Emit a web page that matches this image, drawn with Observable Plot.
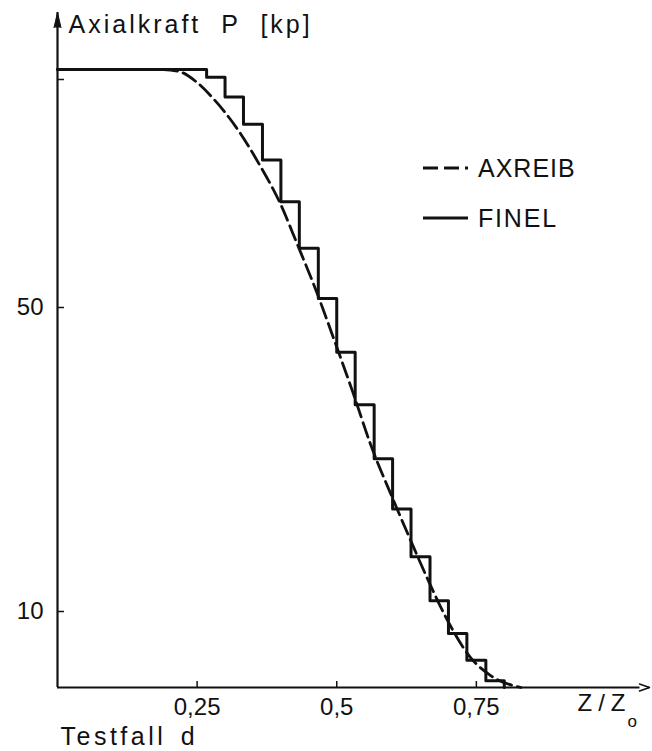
<!DOCTYPE html>
<html><head><meta charset="utf-8">
<script src="https://cdn.jsdelivr.net/npm/d3@7"></script>
<script src="https://cdn.jsdelivr.net/npm/@observablehq/plot@0.6"></script>
<style>
body{margin:0;background:#fff;}
#wrap{position:relative;width:652px;height:751px;overflow:hidden;}
.item{position:absolute;left:423px;height:30px;display:flex;align-items:center;font-family:"Liberation Sans",sans-serif;font-size:25px;color:#111;}
.item svg{display:block;margin-right:10px;}
</style></head>
<body><div id="wrap"></div>
<script>
// FINEL staircase: positions of the steps (Z/Z0) and the force level that starts there (kp)
const finelX = [0, 0.267, 0.3, 0.333, 0.367, 0.4, 0.433, 0.467, 0.5, 0.533, 0.567, 0.6, 0.633, 0.667, 0.7, 0.733, 0.767, 0.8];
const finelP = [81.3, 80.3, 77.7, 74.1, 69.4, 63.9, 57.8, 51.2, 44.1, 37.2, 30.1, 23.5, 17.2, 11.4, 7.1, 3.6, 0.9, 0];
// AXREIB smooth curve (read points)
const axreibX = [0, 0.19, 0.22, 0.25, 0.28, 0.32, 0.36, 0.40, 0.43, 0.46, 0.50, 0.53, 0.56, 0.60, 0.635, 0.665, 0.70, 0.74, 0.775, 0.83];
const axreibP = [81.3, 81.3, 81.0, 79.6, 77.4, 73.7, 69.0, 63.5, 58.2, 52.8, 44.8, 38.6, 32.1, 24.9, 18.9, 13.9, 8.6, 3.9, 1.6, 0];
// axes
const yTicks = [10, 50];
const yTickMarks = [10, 50, 80];
const xTicks = [0.25, 0.5, 0.75];
const xTickLabels = ["0,25", "0,5", "0,75"];
const xMax = [1.06];
const yMax = [88.8];
const yTitle = ["Axialkraft P [kp]"];
const xTitle = ["Z/Z"];
const xTitleSub = ["o"];
const caption = ["Testfall d"];
const legendLabels = ["AXREIB", "FINEL"];
const legendDash = ["15,6", null];

const finel = finelX.map((x, i) => ({x, p: finelP[i]}));
const axreib = axreibX.map((x, i) => ({x, p: axreibP[i]}));
const ink = "#111";
const FF = '"Liberation Sans", sans-serif';

const chart = Plot.plot({
  width: 652, height: 751,
  marginLeft: 57, marginRight: 3, marginTop: 3, marginBottom: 64,
  x: {domain: [0, xMax[0]]},
  y: {domain: [0, 90]},
  style: {fontFamily: FF, fontSize: "24px", color: ink, background: "#fff", overflow: "visible"},
  marks: [
    Plot.ruleY([0], {x1: 0, x2: xMax[0], stroke: ink, strokeWidth: 2}),
    Plot.ruleX([0], {y1: 0, y2: yMax[0], stroke: ink, strokeWidth: 2.2}),
    Plot.vector([0], {x: 0, y: yMax[0], length: 15, shape: "spike", r: 3.5, anchor: "end", fill: ink, stroke: ink, strokeWidth: 1}),
    Plot.vector([0], {x: xMax[0], y: 0, rotate: 90, length: 10, shape: "spike", r: 3.5, anchor: "end", fill: "#fff", stroke: ink, strokeWidth: 1.5}),
    Plot.tickX(xTicks, {x: d => d, insetTop: 678, stroke: ink, strokeWidth: 1.5}),
    Plot.tickY(yTickMarks, {y: d => d, insetRight: 585, stroke: ink, strokeWidth: 1.5}),
    Plot.axisY({ticks: yTicks, tickSize: 0, tickPadding: 14, fontSize: 24, label: null}),
    Plot.axisX({ticks: xTicks, tickSize: 0, tickPadding: 10, fontSize: 24, label: null,
      tickFormat: d => xTickLabels[xTicks.indexOf(d)]}),
    Plot.line(axreib, {x: "x", y: "p", curve: "monotone-x", stroke: ink, strokeWidth: 2.8, strokeDasharray: legendDash[0]}),
    Plot.line(finel, {x: "x", y: "p", curve: "step-after", stroke: ink, strokeWidth: 3}),
    Plot.text(yTitle, {frameAnchor: "top-left", dx: 11, dy: 12, lineAnchor: "top", textAnchor: "start", fontSize: 25, fill: ink}),
    Plot.text(caption, {frameAnchor: "bottom-left", dx: 3, dy: 40, lineAnchor: "top", textAnchor: "start", fontSize: 25, fill: ink}),
    Plot.text(xTitle, {frameAnchor: "bottom-right", dx: -72, dy: 6, lineAnchor: "top", textAnchor: "start", fontSize: 24, fill: ink}),
    Plot.text(xTitleSub, {frameAnchor: "bottom-right", dx: -22, dy: 27, lineAnchor: "top", textAnchor: "start", fontSize: 17, fill: ink})
  ]
});

d3.select(chart).selectAll("text").each(function() {
  const t = this.textContent;
  const s = d3.select(this);
  if (t === yTitle[0]) s.style("letter-spacing", "3px").style("word-spacing", "10px");
  else if (t === caption[0]) s.style("letter-spacing", "3.5px").style("word-spacing", "4px");
  else if (t === xTitle[0]) s.style("letter-spacing", "6px");
});

const wrap = document.getElementById("wrap");
wrap.appendChild(chart);

const legendY = [168, 218];
legendLabels.forEach((lab, i) => {
  const item = document.createElement("div");
  item.className = "item";
  item.style.top = (legendY[i] - 15) + "px";
  const dash = legendDash[i] ? `stroke-dasharray="${legendDash[i]}"` : "";
  item.innerHTML = `<svg width="45" height="30"><line x1="0" x2="45" y1="15" y2="15" stroke="${ink}" stroke-width="3" ${dash}/></svg><span style="letter-spacing:${i ? 1.8 : 1}px">${lab}</span>`;
  wrap.appendChild(item);
});
</script>
</body></html>
